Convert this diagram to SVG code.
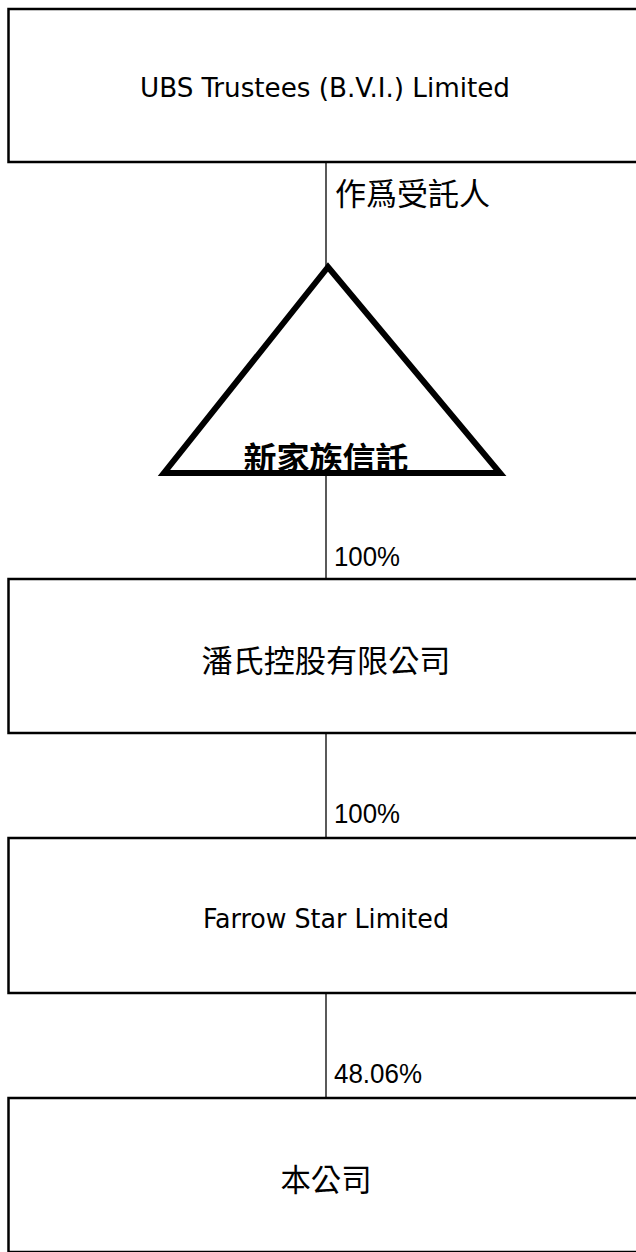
<svg xmlns="http://www.w3.org/2000/svg" width="636" height="1252" viewBox="0 0 636 1252">
<style>
.box{fill:#fff;stroke:#000;stroke-width:2.5}
.conn{stroke:#000;stroke-width:1.3;fill:none}
.lat{font-family:"DejaVu Sans Condensed","DejaVu Sans","Liberation Sans",sans-serif;font-size:26px;fill:#000}
.cjk{font-family:"Noto Sans CJK TC","Noto Sans CJK SC",sans-serif;font-size:31px;fill:#000}
.pct{font-family:"Liberation Sans","DejaVu Sans",sans-serif;font-size:27px;fill:#000}
</style>
<rect width="636" height="1252" fill="#fff"/>
<g id="connectors">
<line class="conn" x1="326" y1="162" x2="326" y2="266"/>
<line class="conn" x1="326" y1="474" x2="326" y2="579"/>
<line class="conn" x1="326" y1="733" x2="326" y2="838"/>
<line class="conn" x1="326" y1="993" x2="326" y2="1098"/>
<text class="cjk" x="335" y="205" textLength="155" lengthAdjust="spacingAndGlyphs">作爲受託人</text>
<text class="pct" x="334" y="566" textLength="66" lengthAdjust="spacingAndGlyphs">100%</text>
<text class="pct" x="334" y="823" textLength="66" lengthAdjust="spacingAndGlyphs">100%</text>
<text class="pct" x="334" y="1083" textLength="88" lengthAdjust="spacingAndGlyphs">48.06%</text>
</g>
<g id="ubs">
<rect class="box" x="8.5" y="9" width="640" height="153"/>
<text class="lat" x="325" y="97" text-anchor="middle" textLength="370" lengthAdjust="spacingAndGlyphs">UBS Trustees (B.V.I.) Limited</text>
</g>
<g id="trust">
<polygon points="328,267 164,473 500,473" fill="#fff" stroke="#000" stroke-width="6" stroke-linejoin="miter"/>
<text class="cjk" x="326" y="469" text-anchor="middle" font-weight="bold" font-size="32" textLength="165" lengthAdjust="spacingAndGlyphs">新家族信託</text>
</g>
<g id="pan">
<rect class="box" x="8.5" y="579" width="640" height="154"/>
<text class="cjk" x="326" y="672" text-anchor="middle" textLength="249" lengthAdjust="spacingAndGlyphs">潘氏控股有限公司</text>
</g>
<g id="farrow">
<rect class="box" x="8.5" y="838" width="640" height="155"/>
<text class="lat" x="326" y="928" text-anchor="middle" textLength="246" lengthAdjust="spacingAndGlyphs">Farrow Star Limited</text>
</g>
<g id="company">
<rect class="box" x="8.5" y="1098" width="640" height="154"/>
<text class="cjk" x="326" y="1191" text-anchor="middle" textLength="91" lengthAdjust="spacingAndGlyphs">本公司</text>
</g>
</svg>
